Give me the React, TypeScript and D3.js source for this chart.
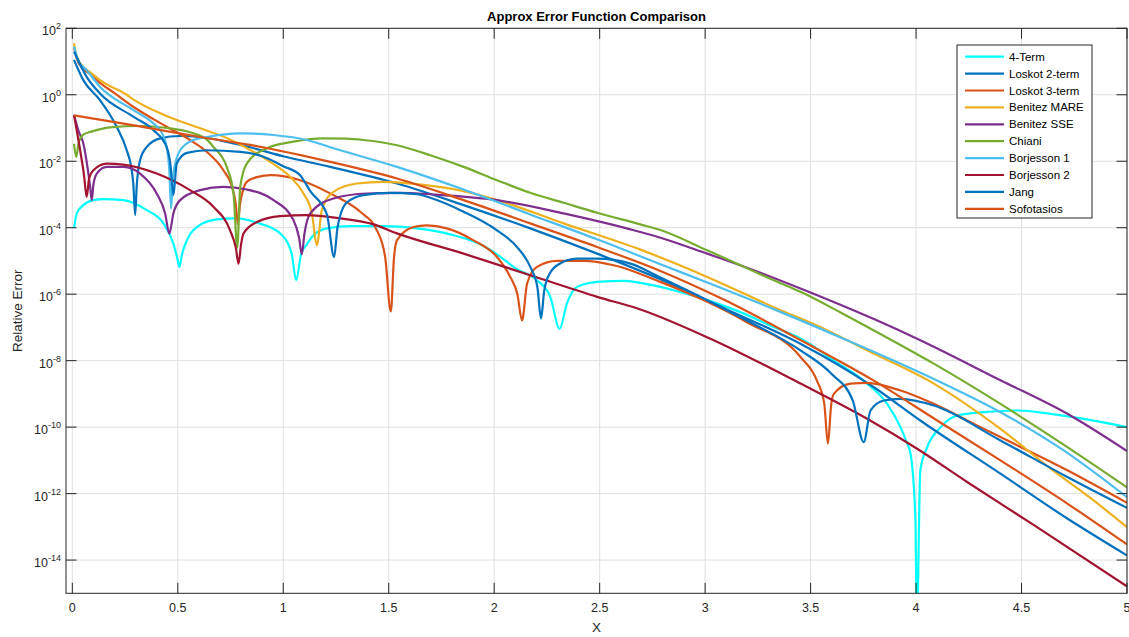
import React from 'react';
import * as d3 from 'd3';

// each point: [x, log10(relative error)]
const fourTerm: [number, number][] = [
  [0.008, -4.01], [0.021, -3.57], [0.052, -3.32], [0.1, -3.17], [0.147, -3.14], [0.242, -3.17],
  [0.353, -3.47], [0.432, -3.87], [0.479, -4.48], [0.497, -4.9], [0.508, -5.18], [0.52, -4.8],
  [0.543, -4.38], [0.59, -3.98], [0.685, -3.75], [0.78, -3.72], [0.875, -3.85], [0.985, -4.17],
  [1.04, -4.78], [1.061, -5.58], [1.085, -4.78], [1.112, -4.5], [1.143, -4.23], [1.207, -4.02],
  [1.317, -3.95], [1.475, -3.95], [1.634, -4.02], [1.792, -4.2], [1.95, -4.55], [2.02, -4.83],
  [2.108, -5.25], [2.203, -5.58], [2.266, -6.08], [2.31, -7.04], [2.345, -6.28], [2.393, -5.78],
  [2.488, -5.63], [2.614, -5.6], [2.693, -5.66], [2.851, -5.88], [3.01, -6.18], [3.167, -6.54],
  [3.325, -6.99], [3.452, -7.33], [3.61, -7.99], [3.768, -8.69], [3.863, -9.3], [3.926, -10.0],
  [3.958, -10.5], [3.974, -10.8], [3.997, -12.8], [4.004, -16], [4.02, -11.3], [4.053, -10.6],
  [4.117, -10.0], [4.195, -9.65], [4.322, -9.55], [4.48, -9.5], [4.638, -9.6], [4.796, -9.75],
  [5.0, -10.0],
];

const loskot2: [number, number][] = [
  [0.008, 1.05], [0.052, 0.44], [0.131, -0.16], [0.21, -0.96], [0.258, -1.67], [0.28, -2.2],
  [0.289, -2.67], [0.298, -3.62], [0.305, -2.77], [0.321, -1.97], [0.353, -1.57], [0.416, -1.31],
  [0.511, -1.24], [0.606, -1.27], [0.7, -1.37], [0.843, -1.58], [1.0, -1.85], [1.223, -2.17],
  [1.539, -2.67], [1.855, -3.32], [2.171, -4.02], [2.488, -4.78], [2.788, -5.55], [3.1, -6.45],
  [3.452, -7.49], [3.8, -8.8], [4.02, -9.8], [4.4, -11.4], [4.717, -12.75], [5.0, -13.86],
];

const loskot3: [number, number][] = [
  [0.008, 1.42], [0.03, 0.95], [0.084, 0.62], [0.131, 0.36], [0.2, 0.05], [0.289, -0.36],
  [0.447, -0.96], [0.558, -1.36], [0.638, -1.72], [0.716, -2.27], [0.756, -2.75], [0.775, -3.3],
  [0.785, -3.9], [0.795, -3.3], [0.81, -2.85], [0.827, -2.62], [0.88, -2.47], [0.94, -2.42],
  [1.08, -2.57], [1.238, -3.02], [1.365, -3.52], [1.444, -4.08], [1.483, -4.88], [1.51, -6.52],
  [1.525, -4.9], [1.539, -4.38], [1.618, -3.98], [1.68, -3.93], [1.776, -4.02], [1.902, -4.38],
  [2.013, -4.88], [2.076, -5.48], [2.11, -6.0], [2.132, -6.79], [2.156, -5.68], [2.203, -5.18],
  [2.298, -5.0], [2.424, -5.0], [2.566, -5.13], [2.788, -5.63], [3.0, -6.2], [3.2, -6.85],
  [3.452, -7.89], [3.53, -8.6], [3.565, -9.3], [3.582, -10.5], [3.598, -9.3], [3.61, -9.0],
  [3.69, -8.69], [3.768, -8.67], [3.926, -8.9], [4.084, -9.3], [4.242, -9.8], [4.4, -10.3],
  [4.717, -11.3], [5.0, -12.28],
];

const benitezMare: [number, number][] = [
  [0.008, 1.55], [0.021, 1.14], [0.1, 0.6], [0.131, 0.44], [0.258, 0.0], [0.289, -0.14],
  [0.447, -0.64], [0.606, -1.01], [0.732, -1.3], [0.843, -1.66], [0.938, -2.02], [1.033, -2.47],
  [1.096, -2.97], [1.136, -3.57], [1.159, -4.53], [1.183, -3.47], [1.238, -2.92], [1.349, -2.67],
  [1.475, -2.62], [1.634, -2.69], [1.871, -2.92], [2.03, -3.2], [2.329, -3.87], [2.693, -4.66],
  [3.01, -5.48], [3.325, -6.39], [3.58, -7.09], [3.768, -7.69], [4.084, -8.69], [4.4, -10.05],
  [4.638, -11.25], [4.82, -12.1], [5.0, -13.01],
];

const benitezSse: [number, number][] = [
  [0.008, -0.61], [0.03, -1.1], [0.052, -1.46], [0.07, -2.1], [0.085, -2.8], [0.092, -3.17],
  [0.1, -2.7], [0.116, -2.37], [0.163, -2.17], [0.242, -2.17], [0.321, -2.37], [0.4, -2.97],
  [0.44, -3.57], [0.46, -4.18], [0.479, -3.57], [0.511, -3.17], [0.606, -2.87], [0.716, -2.77],
  [0.827, -2.85], [0.954, -3.17], [1.048, -3.77], [1.075, -4.3], [1.088, -4.8], [1.1, -4.2],
  [1.128, -3.57], [1.238, -3.12], [1.397, -2.97], [1.555, -2.95], [1.713, -3.0], [2.013, -3.17],
  [2.329, -3.57], [2.646, -4.05], [2.788, -4.3], [3.01, -4.78], [3.167, -5.13], [3.452, -5.83],
  [3.8, -6.75], [4.005, -7.34], [4.4, -8.59], [4.717, -9.6], [5.0, -10.72],
];

const chiani: [number, number][] = [
  [0.008, -1.48], [0.018, -1.87], [0.03, -1.45], [0.052, -1.2], [0.09, -1.11], [0.18, -0.98],
  [0.32, -0.94], [0.45, -1.0], [0.558, -1.13], [0.638, -1.35], [0.669, -1.57], [0.732, -2.17],
  [0.764, -2.97], [0.782, -4.6], [0.796, -2.77], [0.827, -2.07], [0.922, -1.61], [1.048, -1.41],
  [1.19, -1.31], [1.3, -1.32], [1.38, -1.36], [1.539, -1.52], [1.697, -1.82], [1.855, -2.17],
  [2.013, -2.57], [2.171, -2.95], [2.329, -3.25], [2.488, -3.55], [2.693, -3.9], [2.788, -4.07],
  [3.01, -4.68], [3.325, -5.58], [3.452, -5.93], [3.642, -6.55], [3.768, -6.98], [4.084, -8.09],
  [4.4, -9.3], [4.717, -10.6], [5.0, -11.81],
];

const borjesson1: [number, number][] = [
  [0.008, 1.45], [0.03, 1.0], [0.068, 0.74], [0.131, 0.24], [0.289, -0.46], [0.384, -0.86],
  [0.42, -1.1], [0.447, -1.57], [0.46, -2.3], [0.468, -3.42], [0.479, -2.37], [0.511, -1.67],
  [0.574, -1.36], [0.638, -1.27], [0.796, -1.16], [0.954, -1.21], [1.112, -1.36], [1.223, -1.58],
  [1.539, -2.17], [1.855, -2.85], [2.171, -3.6], [2.488, -4.35], [2.788, -5.1], [3.01, -5.65],
  [3.325, -6.45], [3.642, -7.3], [4.084, -8.55], [4.4, -9.55], [4.7, -10.7], [5.0, -12.11],
];

const borjesson2: [number, number][] = [
  [0.008, -0.61], [0.037, -1.67], [0.055, -2.4], [0.068, -3.07], [0.08, -2.5], [0.1, -2.27],
  [0.163, -2.07], [0.242, -2.1], [0.4, -2.37], [0.558, -2.87], [0.669, -3.37], [0.748, -4.08],
  [0.775, -4.6], [0.788, -5.08], [0.8, -4.5], [0.811, -4.18], [0.875, -3.83], [0.985, -3.65],
  [1.112, -3.62], [1.27, -3.72], [1.428, -3.9], [1.539, -4.17], [1.855, -4.78], [2.171, -5.43],
  [2.488, -6.08], [2.693, -6.46], [3.025, -7.34], [3.452, -8.69], [3.768, -9.75], [4.005, -10.65],
  [4.242, -11.65], [4.559, -12.95], [5.0, -14.79],
];

const jang: [number, number][] = [
  [0.008, 1.3], [0.068, 0.54], [0.131, 0.04], [0.289, -0.66], [0.384, -1.06], [0.447, -1.57],
  [0.465, -2.1], [0.479, -3.02], [0.495, -2.07], [0.543, -1.75], [0.638, -1.67], [0.796, -1.72],
  [0.9, -1.85], [1.0, -2.15], [1.08, -2.42], [1.128, -2.9], [1.207, -3.6], [1.241, -4.88],
  [1.257, -4.0], [1.3, -3.25], [1.38, -3.02], [1.507, -2.95], [1.634, -2.99], [1.697, -3.1],
  [1.855, -3.52], [2.013, -4.08], [2.108, -4.58], [2.171, -5.18], [2.205, -5.8], [2.222, -6.73],
  [2.237, -5.9], [2.249, -5.58], [2.298, -5.13], [2.393, -4.93], [2.488, -4.93], [2.646, -5.08],
  [2.788, -5.5], [3.0, -6.15], [3.2, -6.8], [3.452, -7.69], [3.6, -8.4], [3.7, -9.2],
  [3.752, -10.45], [3.784, -9.5], [3.847, -9.2], [3.926, -9.15], [4.084, -9.35], [4.4, -10.4],
  [4.717, -11.5], [5.0, -12.43],
];

const sofotasios: [number, number][] = [
  [0.008, -0.62], [0.3, -0.93], [0.606, -1.27], [0.843, -1.51], [1.223, -2.02], [1.539, -2.52],
  [1.855, -3.17], [2.171, -3.87], [2.488, -4.58], [2.788, -5.3], [3.1, -6.2], [3.452, -7.38],
  [3.8, -8.6], [4.1, -9.8], [4.4, -11.0], [4.717, -12.3], [5.0, -13.53],
];

const seriesNames = ['4-Term', 'Loskot 2-term', 'Loskot 3-term', 'Benitez MARE', 'Benitez SSE',
  'Chiani', 'Borjesson 1', 'Borjesson 2', 'Jang', 'Sofotasios'];
const seriesColors = ['#00FFFF', '#0072BD', '#D95319', '#EDB120', '#7E2F8E',
  '#77AC30', '#4DBEEE', '#A2142F', '#0072BD', '#D95319'];
const seriesData = [fourTerm, loskot2, loskot3, benitezMare, benitezSse,
  chiani, borjesson1, borjesson2, jang, sofotasios];

const xTicks = [0, 0.5, 1, 1.5, 2, 2.5, 3, 3.5, 4, 4.5, 5];
const yTickExps = [2, 0, -2, -4, -6, -8, -10, -12, -14];

const W = 1129;
const H = 637;
const left = 66, right = 1127, top = 28.3, bottom = 593.3;
const font = '"Liberation Sans", Arial, Helvetica, sans-serif';
const axisColor = '#262626';

export default function App() {
  const x = d3.scaleLinear().domain([-0.03, 5]).range([left, right]);
  const y = d3.scaleLog().domain([1e-15, 1e2]).range([bottom, top]);

  const line = d3.line<[number, number]>()
    .x(d => x(d[0]))
    .y(d => y(Math.pow(10, d[1])))
    .curve(d3.curveMonotoneX);

  const tick = 10.5;
  const legX = 957, legY = 45, legW = 135, legH = 173, legStep = 16.9;

  return (
    <svg width={W} height={H} style={{ position: 'absolute', left: 0, top: 0, background: '#fff' }}
      fontFamily={font}>
      <defs>
        <clipPath id="plot">
          <rect x={left} y={top} width={right - left} height={bottom - top} />
        </clipPath>
      </defs>
      <rect x={0} y={0} width={W} height={H} fill="#fff" />

      {/* grid */}
      <g stroke="#dfdfdf" strokeWidth={1}>
        {xTicks.map(t => (
          <line key={'gx' + t} x1={x(t)} x2={x(t)} y1={top} y2={bottom} />
        ))}
        {yTickExps.map(e => (
          <line key={'gy' + e} x1={left} x2={right} y1={y(Math.pow(10, e))} y2={y(Math.pow(10, e))} />
        ))}
      </g>

      {/* curves */}
      <g clipPath="url(#plot)" fill="none" strokeWidth={2.2} strokeLinejoin="round">
        {seriesData.map((d, i) => (
          <path key={seriesNames[i]} d={line(d) || ''} stroke={seriesColors[i]} />
        ))}
      </g>

      {/* box and ticks */}
      <g stroke={axisColor} strokeWidth={1} fill="none">
        <rect x={left} y={top} width={right - left} height={bottom - top} />
        {xTicks.map(t => (
          <g key={'tx' + t}>
            <line x1={x(t)} x2={x(t)} y1={bottom} y2={bottom - tick} />
            <line x1={x(t)} x2={x(t)} y1={top} y2={top + tick} />
          </g>
        ))}
        {yTickExps.map(e => (
          <g key={'ty' + e}>
            <line x1={left} x2={left + tick} y1={y(Math.pow(10, e))} y2={y(Math.pow(10, e))} />
            <line x1={right} x2={right - tick} y1={y(Math.pow(10, e))} y2={y(Math.pow(10, e))} />
          </g>
        ))}
      </g>

      {/* tick labels */}
      <g fill={axisColor} fontSize={12.5}>
        {xTicks.map(t => (
          <text key={'lx' + t} x={x(t)} y={bottom + 19} textAnchor="middle">{String(t)}</text>
        ))}
        {yTickExps.map(e => (
          <text key={'ly' + e} x={left - 5} y={y(Math.pow(10, e)) + 7} textAnchor="end">
            10<tspan fontSize={9} dy={-6}>{String(e)}</tspan>
          </text>
        ))}
      </g>

      {/* titles */}
      <text x={(left + right) / 2} y={21} textAnchor="middle" fontWeight="bold" fontSize={13}
        fill="#000">Approx Error Function Comparison</text>
      <text x={(left + right) / 2} y={632} textAnchor="middle" fontSize={13.5}
        fill={axisColor}>X</text>
      <text transform={`translate(22,${(top + bottom) / 2}) rotate(-90)`} textAnchor="middle"
        fontSize={13.5} fill={axisColor}>Relative Error</text>

      {/* legend */}
      <g>
        <rect x={legX} y={legY} width={legW} height={legH} fill="#fff" stroke={axisColor} strokeWidth={1} />
        {seriesNames.map((n, i) => {
          const ly = legY + 11.7 + i * legStep;
          return (
            <g key={'leg' + n}>
              <line x1={legX + 8} x2={legX + 47} y1={ly} y2={ly} stroke={seriesColors[i]} strokeWidth={2.2} />
              <text x={legX + 52} y={ly + 4} fontSize={11.5} fill="#000">{n}</text>
            </g>
          );
        })}
      </g>
    </svg>
  );
}
